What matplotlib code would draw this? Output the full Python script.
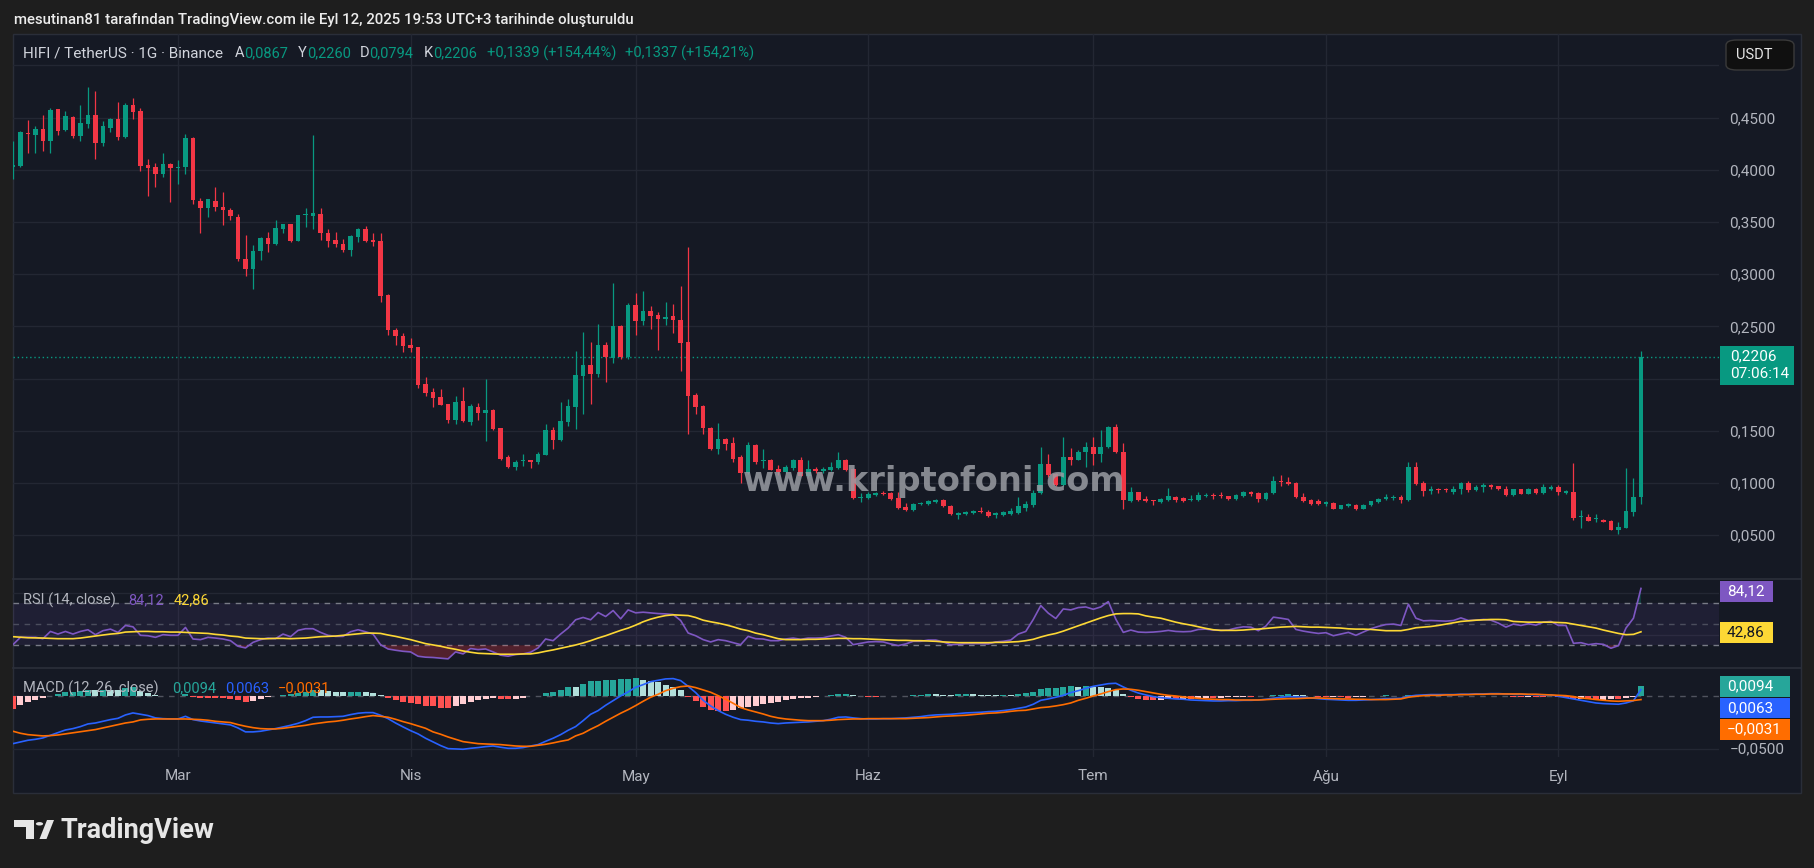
import numpy as np
import pandas as pd
import matplotlib
matplotlib.use("Agg")
import matplotlib.pyplot as plt
import matplotlib.dates as mdates
import matplotlib.transforms as mtransforms
from matplotlib.patches import Rectangle, FancyBboxPatch, Polygon, Circle
from matplotlib.lines import Line2D

plt.rcParams['font.family'] = ['Roboto', 'DejaVu Sans']

# ---------------- data (HIFI/USDT daily, 2025-02-07 .. 2025-09-12) ----------------
start_date = "2025-02-07"
end_date = "2025-09-12"

opens = [
    .4029, .4032, .4349, .4333, .4388, .4276, .4580, .4381, .4503, .4324,
    .4439, .4522, .4256, .4397, .4484, .4311, .4619, .4561, .4042, .4022,
    .3958, .4051, .4016, .4026, .4301, .3705, .3631, .3705, .3647, .3619,
    .3551, .3147, .3045, .3218, .3349, .3285, .3429, .3478, .3321, .3564,
    .3554, .3580, .3397, .3330, .3292, .3234, .3359, .3436, .3330, .3321,
    .2801, .2468, .2407, .2324, .2301, .1949, .1872, .1821, .1756, .1603,
    .1782, .1583, .1724, .1670, .1696, .1522, .1244, .1157, .1208, .1215,
    .1196, .1272, .1503, .1407, .1583, .1728, .2026, .2128, .2045, .2321,
    .2199, .2503, .2208, .2705, .2554, .2647, .2609, .2574, .2596, .2561,
    .2349, .1840, .1734, .1529, .1321, .1417, .1378, .1244, .1099, .1359,
    .1212, .1224, .1138, .1109, .1147, .1215, .1071, .1138, .1119, .1128,
    .1147, .1215, .1138, .0856, .0853, .0881, .0907, .0901, .0853, .0766,
    .0737, .0795, .0795, .0814, .0833, .0776, .0689, .0699, .0708, .0728,
    .0718, .0689, .0689, .0699, .0708, .0756, .0785, .0901, .1186, .1090,
    .0984, .1253, .1224, .1292, .1340, .1282, .1340, .1532, .1301, .0824,
    .0910, .0843, .0833, .0814, .0833, .0865, .0853, .0840, .0833, .0878,
    .0881, .0881, .0872, .0843, .0872, .0910, .0901, .0843, .0901, .1022,
    .1013, .0997, .0869, .0840, .0824, .0795, .0811, .0753, .0776, .0792,
    .0753, .0785, .0814, .0843, .0859, .0869, .0840, .1157, .0997, .0920,
    .0946, .0946, .0917, .0939, .0997, .0936, .0958, .0978, .0968, .0946,
    .0881, .0939, .0897, .0946, .0907, .0946, .0965, .0907, .0917, .0670,
    .0673, .0651, .0647, .0638, .0551, .0571, .0724, .0867,
]
highs = [
    .4276, .4372, .4474, .4417, .4522, .4590, .4585, .4561, .4510, .4619,
    .4792, .4753, .4468, .4494, .4647, .4638, .4686, .4590, .4099, .4061,
    .4157, .4061, .4090, .4340, .4311, .3734, .3724, .3830, .3782, .3631,
    .3580, .3372, .3282, .3355, .3407, .3522, .3484, .3484, .3571, .3638,
    .4330, .3638, .3436, .3407, .3340, .3378, .3446, .3465, .3397, .3397,
    .2811, .2487, .2436, .2388, .2305, .2016, .1910, .1897, .1760, .1833,
    .1920, .1753, .1766, .1994, .1705, .1526, .1272, .1224, .1282, .1219,
    .1292, .1561, .1532, .1772, .1801, .2263, .2446, .2349, .2522, .2349,
    .2917, .2513, .2724, .2821, .2840, .2692, .2638, .2734, .2715, .2888,
    .3260, .1859, .1744, .1538, .1574, .1426, .1436, .1272, .1388, .1369,
    .1321, .1231, .1176, .1176, .1234, .1244, .1215, .1157, .1157, .1196,
    .1292, .1234, .1147, .0901, .0910, .0913, .0923, .0910, .0913, .0804,
    .0804, .0817, .0833, .0843, .0843, .0785, .0718, .0728, .0737, .0766,
    .0737, .0718, .0728, .0756, .0869, .0824, .0929, .1349, .1282, .1099,
    .1436, .1330, .1311, .1388, .1436, .1503, .1542, .1561, .1378, .0958,
    .0915, .0872, .0838, .0853, .0949, .0872, .0862, .0881, .0917, .0901,
    .0901, .0910, .0876, .0891, .0920, .0920, .0910, .0910, .1071, .1080,
    .1054, .1006, .0907, .0849, .0849, .0830, .0817, .0792, .0804, .0801,
    .0795, .0830, .0853, .0897, .0888, .0888, .1196, .1205, .1016, .0974,
    .0955, .0955, .0968, .1006, .1016, .0978, .0997, .0987, .0974, .0968,
    .0946, .0946, .0949, .0949, .0994, .0978, .0978, .0936, .1189, .0744,
    .0705, .0705, .0657, .0647, .0625, .1147, .1051, .2260,
]
lows = [
    .3910, .4026, .4157, .4157, .4179, .4157, .4333, .4375, .4301, .4272,
    .4397, .4103, .4228, .4359, .4282, .4301, .4487, .3987, .3747, .3833,
    .3929, .3689, .3862, .3958, .3670, .3391, .3545, .3606, .3468, .3516,
    .3122, .2978, .2853, .3131, .3208, .3280, .3397, .3304, .3316, .3449,
    .3436, .3330, .3263, .3263, .3208, .3170, .3304, .3304, .3266, .2737,
    .2420, .2324, .2256, .2256, .1910, .1833, .1728, .1742, .1574, .1564,
    .1588, .1554, .1603, .1401, .1511, .1224, .1147, .1128, .1167, .1147,
    .1186, .1263, .1321, .1397, .1542, .1513, .1657, .1756, .2016, .1968,
    .2151, .2189, .2189, .2420, .2516, .2478, .2276, .2516, .2439, .2074,
    .1468, .1657, .1465, .1315, .1282, .1311, .1205, .1003, .1090, .1186,
    .1147, .1122, .1080, .1099, .1128, .1065, .1061, .1099, .1099, .1119,
    .1138, .1119, .0845, .0814, .0848, .0872, .0885, .0833, .0747, .0728,
    .0732, .0785, .0785, .0804, .0766, .0689, .0651, .0689, .0704, .0712,
    .0673, .0660, .0685, .0689, .0704, .0728, .0766, .0894, .1061, .0974,
    .0974, .1176, .1218, .1157, .1176, .1205, .1330, .1286, .0747, .0814,
    .0828, .0820, .0785, .0810, .0828, .0814, .0820, .0824, .0828, .0862,
    .0843, .0853, .0833, .0838, .0862, .0872, .0814, .0833, .0891, .0968,
    .0978, .0858, .0821, .0792, .0790, .0782, .0748, .0748, .0772, .0744,
    .0748, .0780, .0810, .0840, .0840, .0811, .0824, .0978, .0878, .0891,
    .0907, .0917, .0897, .0897, .0917, .0926, .0910, .0946, .0935, .0876,
    .0872, .0893, .0893, .0891, .0897, .0936, .0881, .0897, .0647, .0571,
    .0633, .0625, .0623, .0546, .0513, .0566, .0686, .0794,
]
closes = [
    .4042, .4359, .4343, .4388, .4276, .4571, .4372, .4513, .4324, .4446,
    .4522, .4256, .4417, .4484, .4311, .4619, .4554, .4035, .4016, .3958,
    .4051, .4019, .4022, .4301, .3708, .3631, .3715, .3641, .3612, .3554,
    .3141, .3045, .3224, .3349, .3285, .3446, .3478, .3321, .3564, .3571,
    .3590, .3391, .3321, .3285, .3234, .3369, .3436, .3321, .3304, .2792,
    .2468, .2410, .2314, .2295, .1939, .1862, .1814, .1747, .1603, .1772,
    .1593, .1734, .1670, .1696, .1516, .1234, .1157, .1205, .1215, .1196,
    .1282, .1503, .1407, .1590, .1734, .2032, .2128, .2045, .2321, .2208,
    .2503, .2208, .2705, .2554, .2647, .2603, .2574, .2590, .2564, .2343,
    .1833, .1724, .1522, .1321, .1417, .1369, .1234, .1099, .1359, .1205,
    .1218, .1128, .1109, .1157, .1224, .1071, .1138, .1119, .1138, .1157,
    .1215, .1128, .0853, .0865, .0891, .0907, .0891, .0843, .0756, .0737,
    .0798, .0801, .0824, .0833, .0776, .0699, .0708, .0718, .0728, .0718,
    .0679, .0708, .0718, .0728, .0776, .0795, .0907, .1186, .1080, .0984,
    .1253, .1224, .1301, .1340, .1282, .1349, .1532, .1292, .0833, .0910,
    .0833, .0824, .0824, .0843, .0872, .0833, .0824, .0846, .0881, .0885,
    .0872, .0872, .0843, .0881, .0910, .0891, .0843, .0904, .1022, .1006,
    .0987, .0862, .0830, .0801, .0795, .0817, .0753, .0785, .0801, .0753,
    .0792, .0824, .0849, .0869, .0865, .0840, .1157, .0987, .0926, .0946,
    .0936, .0929, .0946, .0997, .0936, .0965, .0978, .0965, .0939, .0881,
    .0939, .0897, .0946, .0907, .0958, .0965, .0910, .0920, .0667, .0676,
    .0638, .0657, .0628, .0551, .0580, .0734, .0867, .2206,
]
rsi = [
    30.6, 37.6, 37.6, 37.6, 36.3, 43.2, 40.7, 43.2, 40.7, 43.2,
    44.8, 40.1, 43.9, 45.4, 42.3, 48.9, 47.6, 39.5, 39.1, 37.6,
    40.1, 39.5, 39.5, 47.0, 36.0, 35.4, 37.6, 36.9, 36.0, 34.4,
    29.1, 27.5, 32.8, 35.4, 36.9, 36.3, 40.7, 38.2, 44.2, 45.8,
    45.8, 42.3, 39.5, 38.5, 38.5, 42.9, 44.8, 42.9, 40.7, 30.6,
    26.5, 25.3, 24.3, 23.7, 19.6, 18.7, 18.4, 17.7, 17.1, 23.7,
    21.8, 26.9, 25.9, 26.5, 23.7, 20.6, 19.6, 21.2, 21.8, 23.4,
    27.5, 36.0, 34.4, 40.7, 46.4, 54.3, 56.5, 54.3, 61.2, 57.4,
    63.1, 55.2, 63.7, 60.9, 61.5, 60.9, 60.2, 59.9, 59.3, 53.6,
    41.7, 39.1, 35.4, 33.2, 35.4, 34.4, 32.5, 30.6, 38.5, 36.3,
    36.0, 34.4, 34.4, 36.0, 36.9, 35.7, 36.9, 36.9, 37.2, 38.8,
    40.1, 37.6, 30.6, 31.9, 33.2, 33.5, 33.2, 31.3, 29.7, 31.3,
    33.8, 33.8, 35.0, 35.0, 33.2, 30.6, 30.9, 31.6, 31.6, 31.6,
    31.3, 33.2, 33.8, 35.0, 40.7, 43.2, 54.6, 67.8, 60.6, 55.5,
    64.6, 63.7, 65.9, 66.5, 64.3, 66.5, 71.6, 54.9, 42.3, 44.5,
    42.6, 42.3, 42.6, 43.2, 44.2, 43.2, 42.9, 43.2, 45.1, 45.4,
    44.5, 44.2, 44.5, 46.4, 47.6, 47.3, 43.9, 48.3, 56.8, 55.8,
    54.6, 45.1, 43.5, 42.3, 41.3, 42.0, 39.1, 40.7, 42.3, 39.5,
    42.6, 45.8, 48.0, 49.8, 50.2, 48.9, 69.1, 55.8, 53.3, 53.6,
    53.3, 53.0, 53.6, 56.1, 53.6, 53.9, 54.6, 53.9, 51.1, 47.3,
    50.2, 48.9, 50.5, 49.2, 52.1, 52.7, 48.9, 48.9, 31.9, 32.5,
    30.6, 31.6, 30.9, 27.2, 29.7, 46.4, 55.8, 84.12,
]
rsi_ma = [
    38.2, 37.7, 37.2, 37.1, 36.9, 36.6, 36.3, 36.3, 36.3, 36.9,
    37.9, 38.8, 39.8, 40.7, 41.3, 42.6, 42.9, 43.2, 43.2, 42.9,
    42.9, 42.6, 42.6, 42.3, 42.0, 41.6, 41.3, 40.4, 39.8, 38.8,
    38.2, 36.9, 36.6, 36.3, 36.3, 36.6, 36.6, 36.3, 36.6, 36.9,
    37.6, 38.2, 38.5, 38.8, 39.5, 40.1, 41.0, 41.6, 41.6, 41.3,
    39.8, 38.5, 36.9, 35.4, 33.5, 31.6, 30.3, 29.1, 27.5, 26.2,
    24.6, 23.4, 22.4, 22.1, 21.8, 21.5, 21.5, 21.5, 21.8, 21.8,
    22.8, 24.3, 25.6, 27.2, 28.7, 30.3, 32.2, 34.4, 36.9, 39.1,
    41.6, 44.2, 46.4, 49.2, 52.4, 54.9, 56.8, 58.3, 59.0, 58.7,
    58.3, 56.5, 53.9, 52.4, 51.1, 49.5, 47.6, 45.4, 43.9, 41.6,
    40.1, 38.2, 36.3, 35.4, 35.4, 35.4, 35.7, 35.7, 36.0, 36.3,
    36.6, 36.6, 36.3, 36.3, 36.0, 35.7, 35.4, 35.0, 34.7, 34.7,
    34.4, 34.4, 34.1, 33.8, 33.2, 32.8, 32.5, 32.5, 32.5, 32.5,
    32.5, 32.8, 32.8, 33.2, 33.5, 34.4, 35.7, 37.9, 39.8, 41.3,
    43.5, 46.1, 48.6, 51.1, 53.6, 56.1, 58.3, 59.9, 60.2, 60.2,
    59.9, 58.0, 56.8, 55.8, 53.9, 52.0, 50.5, 49.2, 47.6, 46.1,
    44.8, 44.2, 44.2, 44.2, 44.5, 45.1, 45.4, 46.1, 46.7, 47.3,
    47.6, 48.0, 47.6, 47.3, 47.3, 47.0, 46.7, 46.4, 45.7, 45.4,
    45.4, 45.1, 44.5, 43.9, 43.9, 43.9, 45.1, 46.7, 47.3, 47.9,
    48.9, 50.2, 51.4, 52.7, 53.3, 53.9, 54.3, 54.6, 54.6, 54.3,
    52.7, 52.4, 52.0, 52.0, 52.0, 52.0, 51.7, 51.4, 50.2, 48.9,
    47.6, 46.4, 44.5, 42.9, 41.3, 40.1, 40.4, 42.86,
]
macd_line = [
    -0.0447, -0.0431, -0.0415, -0.0406, -0.0393, -0.0368, -0.0343, -0.0318, -0.0305, -0.0286,
    -0.0261, -0.0252, -0.0236, -0.0220, -0.0208, -0.0176, -0.0157, -0.0170, -0.0182, -0.0204,
    -0.0211, -0.0214, -0.0214, -0.0189, -0.0220, -0.0233, -0.0242, -0.0252, -0.0261, -0.0270,
    -0.0299, -0.0336, -0.0336, -0.0330, -0.0318, -0.0305, -0.0289, -0.0274, -0.0255, -0.0230,
    -0.0198, -0.0195, -0.0195, -0.0192, -0.0189, -0.0173, -0.0160, -0.0154, -0.0154, -0.0179,
    -0.0211, -0.0252, -0.0289, -0.0324, -0.0355, -0.0396, -0.0431, -0.0465, -0.0494, -0.0497,
    -0.0500, -0.0491, -0.0484, -0.0475, -0.0469, -0.0481, -0.0491, -0.0491, -0.0484, -0.0469,
    -0.0456, -0.0425, -0.0396, -0.0362, -0.0321, -0.0286, -0.0230, -0.0170, -0.0135, -0.0085,
    -0.0041, 0.0003, 0.0041, 0.0085, 0.0110, 0.0138, 0.0151, 0.0164, 0.0167, 0.0148,
    0.0094, 0.0035, -0.0038, -0.0091, -0.0135, -0.0170, -0.0198, -0.0220, -0.0226, -0.0236,
    -0.0242, -0.0252, -0.0258, -0.0252, -0.0248, -0.0245, -0.0242, -0.0236, -0.0230, -0.0217,
    -0.0198, -0.0195, -0.0204, -0.0211, -0.0214, -0.0214, -0.0211, -0.0211, -0.0208, -0.0204,
    -0.0198, -0.0192, -0.0182, -0.0176, -0.0173, -0.0170, -0.0164, -0.0157, -0.0154, -0.0151,
    -0.0145, -0.0142, -0.0135, -0.0126, -0.0113, -0.0101, -0.0075, -0.0038, -0.0025, -0.0009,
    0.0009, 0.0035, 0.0053, 0.0075, 0.0094, 0.0107, 0.0119, 0.0123, 0.0088, 0.0057,
    0.0031, 0.0013, -0.0003, -0.0013, -0.0019, -0.0025, -0.0028, -0.0035, -0.0038, -0.0041,
    -0.0044, -0.0044, -0.0041, -0.0041, -0.0038, -0.0038, -0.0035, -0.0028, -0.0019, -0.0009,
    -0.0003, -0.0006, -0.0009, -0.0016, -0.0022, -0.0028, -0.0031, -0.0035, -0.0038, -0.0038,
    -0.0035, -0.0031, -0.0028, -0.0022, -0.0022, -0.0019, 0.0000, 0.0009, 0.0013, 0.0016,
    0.0016, 0.0016, 0.0016, 0.0019, 0.0019, 0.0022, 0.0022, 0.0025, 0.0025, 0.0022,
    0.0019, 0.0019, 0.0016, 0.0016, 0.0013, 0.0013, 0.0000, -0.0013, -0.0025, -0.0038,
    -0.0050, -0.0063, -0.0069, -0.0072, -0.0075, -0.0063, -0.0042, 0.0063,
]
signal_line = [
    -0.0330, -0.0349, -0.0362, -0.0368, -0.0374, -0.0371, -0.0365, -0.0355, -0.0346, -0.0336,
    -0.0324, -0.0314, -0.0299, -0.0283, -0.0267, -0.0252, -0.0242, -0.0223, -0.0217, -0.0214,
    -0.0214, -0.0214, -0.0214, -0.0214, -0.0217, -0.0220, -0.0226, -0.0236, -0.0242, -0.0248,
    -0.0267, -0.0283, -0.0296, -0.0305, -0.0308, -0.0308, -0.0302, -0.0292, -0.0283, -0.0274,
    -0.0261, -0.0252, -0.0242, -0.0236, -0.0226, -0.0214, -0.0204, -0.0192, -0.0182, -0.0189,
    -0.0198, -0.0217, -0.0239, -0.0258, -0.0280, -0.0302, -0.0336, -0.0358, -0.0384, -0.0406,
    -0.0428, -0.0437, -0.0447, -0.0450, -0.0453, -0.0456, -0.0462, -0.0469, -0.0472, -0.0472,
    -0.0462, -0.0453, -0.0440, -0.0425, -0.0412, -0.0374, -0.0349, -0.0311, -0.0277, -0.0236,
    -0.0198, -0.0160, -0.0126, -0.0088, -0.0047, -0.0009, 0.0019, 0.0053, 0.0075, 0.0091,
    0.0097, 0.0082, 0.0060, 0.0038, 0.0006, -0.0028, -0.0066, -0.0107, -0.0129, -0.0148,
    -0.0167, -0.0189, -0.0204, -0.0214, -0.0220, -0.0226, -0.0230, -0.0230, -0.0230, -0.0226,
    -0.0220, -0.0217, -0.0214, -0.0214, -0.0211, -0.0211, -0.0211, -0.0211, -0.0211, -0.0211,
    -0.0208, -0.0204, -0.0201, -0.0195, -0.0189, -0.0186, -0.0182, -0.0179, -0.0173, -0.0167,
    -0.0160, -0.0157, -0.0151, -0.0142, -0.0135, -0.0132, -0.0119, -0.0107, -0.0101, -0.0091,
    -0.0079, -0.0063, -0.0038, -0.0019, 0.0003, 0.0022, 0.0044, 0.0063, 0.0069, 0.0066,
    0.0057, 0.0044, 0.0031, 0.0019, 0.0009, 0.0003, -0.0006, -0.0013, -0.0019, -0.0025,
    -0.0028, -0.0031, -0.0031, -0.0035, -0.0035, -0.0035, -0.0035, -0.0031, -0.0028, -0.0025,
    -0.0022, -0.0022, -0.0019, -0.0016, -0.0016, -0.0019, -0.0022, -0.0025, -0.0025, -0.0028,
    -0.0028, -0.0031, -0.0031, -0.0031, -0.0028, -0.0025, -0.0009, 0.0000, 0.0006, 0.0009,
    0.0009, 0.0013, 0.0013, 0.0016, 0.0016, 0.0019, 0.0019, 0.0022, 0.0022, 0.0022,
    0.0022, 0.0022, 0.0019, 0.0019, 0.0016, 0.0013, 0.0009, 0.0006, -0.0003, -0.0016,
    -0.0022, -0.0031, -0.0038, -0.0044, -0.0047, -0.0044, -0.0040, -0.0031,
]

month_starts = ["2025-03-01", "2025-04-01", "2025-05-01", "2025-06-01",
                "2025-07-01", "2025-08-01", "2025-09-01"]
month_labels = ["Mar", "Nis", "May", "Haz", "Tem", "Ağu", "Eyl"]
price_ticks = [0.05, 0.10, 0.15, 0.25, 0.30, 0.35, 0.40, 0.45]
price_grid = [0.05, 0.10, 0.15, 0.20, 0.25, 0.30, 0.35, 0.40, 0.45, 0.50]

title_text = "mesutinan81 tarafından TradingView.com ile Eyl 12, 2025 19:53 UTC+3 tarihinde oluşturuldu"
symbol_text = "HIFI / TetherUS · 1G · Binance"
change2_text = "+0,1337 (+154,21%)"
countdown_text = "07:06:14"
watermark_text = "www.kriptofoni.com"

# ---------------- setup ----------------
o = np.array(opens); h = np.array(highs); l = np.array(lows); c = np.array(closes)
rsi = np.array(rsi); rsi_ma = np.array(rsi_ma)
macd_line = np.array(macd_line); signal_line = np.array(signal_line)
hist = macd_line - signal_line

dates = pd.date_range(start_date, end_date, freq="D")
x = mdates.date2num(dates.to_pydatetime())
month_x = mdates.date2num(pd.to_datetime(month_starts).to_pydatetime())
mar1 = month_x[0]
XLIM = (mar1 - 21.99, mar1 + 205.4)

W, H = 1814, 868
fig = plt.figure(figsize=(W / 100, H / 100), dpi=100)
fig.patch.set_facecolor("#1e1e1e")

BG = "#151924"
GRID = "#232733"
SEP = "#2a2e39"
TXT = "#b2b5be"
GREEN = "#089981"
RED = "#f23645"


def fb(x0, y0, x1, y1):
    return [x0 / W, 1 - y1 / H, (x1 - x0) / W, (y1 - y0) / H]


def FX(px):
    return px / W


def FY(py):
    return 1 - py / H


def fmt(v, n=4):
    s = f"{v:.{n}f}".replace(".", ",")
    return s.replace("-", "\u2212")


# chart panel
fig.add_artist(Rectangle((FX(13), FY(793)), (1801 - 13) / W, (793 - 34) / H,
                         transform=fig.transFigure, facecolor=BG, edgecolor=SEP,
                         lw=1, zorder=0))

ax = fig.add_axes(fb(13, 34, 1719, 579))
axr = fig.add_axes(fb(13, 579, 1719, 668))
axm = fig.add_axes(fb(13, 668, 1719, 757))
for a in (ax, axr, axm):
    a.set_facecolor("none")
    for s in a.spines.values():
        s.set_visible(False)
    a.set_xlim(*XLIM)
    for mx in month_x:
        a.axvline(mx, color=GRID, lw=1, zorder=0)
    a.tick_params(length=0)

# pane separators
for yy in (579, 668):
    fig.add_artist(Line2D([FX(13), FX(1801)], [FY(yy), FY(yy)],
                          transform=fig.transFigure, color=SEP, lw=1.3))

# ---------------- main price pane ----------------
ax.set_ylim(0.008, 0.530)
for p in price_grid:
    ax.axhline(p, color=GRID, lw=1, zorder=0)
up = c >= o
cols = np.where(up, GREEN, RED)
ax.vlines(x, l, h, colors=cols, lw=0.9, zorder=2)
body = np.maximum(np.abs(c - o), 0.0009)
ax.bar(x, body, bottom=np.minimum(o, c), width=0.62, color=cols, lw=0, zorder=3)
ax.axhline(c[-1], color=GREEN, lw=1, ls=(0, (1, 2)), zorder=1)

ax.yaxis.tick_right()
ax.set_yticks(price_ticks)
ax.set_yticklabels([fmt(p) for p in price_ticks])
ax.tick_params(axis="y", pad=7.5, labelcolor=TXT, labelsize=11)
ax.set_xticks([])

# watermark
fig.text(FX(934), FY(481), watermark_text, fontsize=24.2, weight="bold",
         color="#9a9ca3", alpha=0.85, ha="center", va="center",
         family=["DejaVu Sans"], zorder=10)

# main legend
ly = FY(53)
fig.text(FX(23), ly, symbol_text, color="#d1d4dc", fontsize=10.95, va="center")
pieces = [(235, "A", o[-1]), (298, "Y", h[-1]), (360, "D", l[-1]), (424, "K", c[-1])]
for px, lab, val in pieces:
    fig.text(FX(px), ly, lab, color="#d1d4dc", fontsize=10.5, va="center")
    fig.text(FX(px + 9.5), ly, fmt(val), color=GREEN, fontsize=10.5, va="center")
chg = c[-1] - c[-2]
fig.text(FX(487), ly, f"+{fmt(chg)} (+{chg / c[-2] * 100:.2f}%)".replace(".", ","),
         color=GREEN, fontsize=10.5, va="center")
fig.text(FX(625), ly, change2_text, color=GREEN, fontsize=10.5, va="center")

# current price box
fig.add_artist(Rectangle((FX(1720), FY(385)), 74 / W, 39 / H,
                         transform=fig.transFigure, facecolor=GREEN, lw=0, zorder=5))
fig.text(FX(1730), FY(356), fmt(c[-1]), color="white", fontsize=11, va="center", zorder=6)
fig.text(FX(1730), FY(374), countdown_text, color="white", fontsize=11, va="center", zorder=6)

# USDT button
fig.add_artist(FancyBboxPatch((FX(1726), FY(70)), 68 / W, 30 / H,
                              boxstyle="round,pad=0,rounding_size=0.006",
                              transform=fig.transFigure, facecolor="#101010",
                              edgecolor="#3a3a3a", lw=1, zorder=5))
fig.text(FX(1736), FY(55), "USDT", color="#e6e6e6", fontsize=10.5, va="center", zorder=6)

# ---------------- RSI pane ----------------
axr.set_ylim(8.4, 93.1)
for g in (80, 40):
    axr.axhline(g, color=GRID, lw=1, zorder=0)
axr.axhspan(30, 70, color="#7e57c2", alpha=0.1, lw=0, zorder=0)
for lv, al in ((70, 1.0), (50, 0.5), (30, 1.0)):
    axr.axhline(lv, color="#787b86", lw=1, ls=(0, (4, 4)), alpha=al, zorder=1)
axr.fill_between(x, rsi, 30, where=rsi < 30, interpolate=True,
                 color=RED, alpha=0.28, lw=0, zorder=1)
axr.fill_between(x, rsi, 70, where=rsi > 70, interpolate=True,
                 color=GREEN, alpha=0.28, lw=0, zorder=1)
axr.plot(x, rsi, color="#7e57c2", lw=1.2, zorder=3)
axr.plot(x, rsi_ma, color="#fdd835", lw=1.2, zorder=3)
axr.set_xticks([]); axr.set_yticks([])

ry = FY(600)
fig.text(FX(23), ry, "RSI (14, close)", color=TXT, fontsize=10.5, va="center")
fig.text(FX(128), ry, fmt(rsi[-1], 2), color="#7e57c2", fontsize=10.5, va="center")
fig.text(FX(174), ry, fmt(rsi_ma[-1], 2), color="#fdd835", fontsize=10.5, va="center")

fig.add_artist(Rectangle((FX(1720), FY(602)), 53 / W, 21 / H, transform=fig.transFigure,
                         facecolor="#7e57c2", lw=0, zorder=5))
fig.text(FX(1727), FY(591.5), fmt(rsi[-1], 2), color="white", fontsize=11, va="center", zorder=6)
fig.add_artist(Rectangle((FX(1720), FY(643)), 53 / W, 21 / H, transform=fig.transFigure,
                         facecolor="#fdd835", lw=0, zorder=5))
fig.text(FX(1727), FY(632.5), fmt(rsi_ma[-1], 2), color="#131722", fontsize=11, va="center", zorder=6)

# ---------------- MACD pane ----------------
axm.set_ylim(-0.0573, 0.0267)
axm.axhline(-0.05, color=GRID, lw=1, zorder=0)
hist_cols = []
prev = None
for hv in hist:
    if hv >= 0:
        col = "#26a69a" if (prev is None or hv > prev) else "#b2dfdb"
    else:
        col = "#ffcdd2" if (prev is not None and hv > prev) else "#ff5252"
    hist_cols.append(col)
    prev = hv
axm.bar(x, hist, width=0.8, color=hist_cols, lw=0, zorder=2)
axm.axhline(0, color="#787b86", lw=1, ls=(0, (4, 4)), alpha=0.6, zorder=1)
axm.plot(x, macd_line, color="#2962ff", lw=1.2, zorder=3)
axm.plot(x, signal_line, color="#ff6d00", lw=1.2, zorder=3)
axm.set_yticks([])
axm.set_xticks(month_x)
axm.set_xticklabels(month_labels)
axm.tick_params(axis="x", pad=9, labelcolor=TXT, labelsize=11)

trm = mtransforms.blended_transform_factory(axm.transAxes, axm.transData)
axm.text(1.0065, -0.05, fmt(-0.05), transform=trm, color=TXT, fontsize=11,
         va="center", ha="left", clip_on=False)

my = FY(688.7)
fig.text(FX(23), my, "MACD (12, 26, close)", color=TXT, fontsize=10.5, va="center", zorder=6)
fig.text(FX(172), my, fmt(hist[-1]), color="#26a69a", fontsize=10.5, va="center", zorder=6)
fig.text(FX(225), my, fmt(macd_line[-1]), color="#2962ff", fontsize=10.5, va="center", zorder=6)
fig.text(FX(278), my, fmt(signal_line[-1]), color="#ff6d00", fontsize=10.5, va="center", zorder=6)

for (y0, y1, fc, val) in ((676, 697, "#26a69a", hist[-1]),
                          (698, 718, "#2962ff", macd_line[-1]),
                          (719, 740, "#ff6d00", signal_line[-1])):
    fig.add_artist(Rectangle((FX(1720), FY(y1)), 70 / W, (y1 - y0) / H,
                             transform=fig.transFigure, facecolor=fc, lw=0, zorder=5))
    fig.text(FX(1727), FY((y0 + y1) / 2), fmt(val), color="white", fontsize=11,
             va="center", zorder=6)

# ---------------- header / footer ----------------
fig.text(FX(14), FY(20), title_text, color="#ececec", fontsize=10.8,
         weight="medium", va="center")

# TradingView logo
logo = "#e6e6e6"
fig.add_artist(Polygon([(FX(14), FY(820)), (FX(34), FY(820)), (FX(34), FY(839)),
                        (FX(26), FY(839)), (FX(26), FY(827)), (FX(14), FY(827))],
                       closed=True, transform=fig.transFigure, facecolor=logo, lw=0))
fig.add_artist(Circle((FX(39.5), FY(823.8)), 3.6 / W, transform=fig.transFigure,
                      facecolor=logo, lw=0))
fig.add_artist(Polygon([(FX(39.5), FY(839)), (FX(46.5), FY(839)), (FX(54), FY(820)),
                        (FX(47), FY(820))],
                       closed=True, transform=fig.transFigure, facecolor=logo, lw=0))
fig.text(FX(60), FY(830), "TradingView", color=logo, fontsize=19.5,
         weight="bold", va="center")

fig.savefig("out.png", dpi=100, facecolor=fig.get_facecolor())
